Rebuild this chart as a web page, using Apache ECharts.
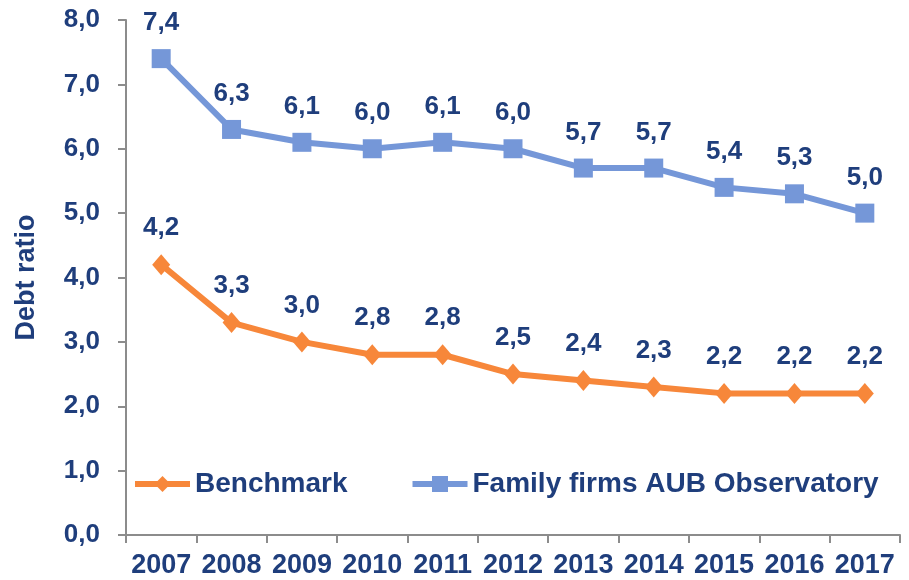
<!DOCTYPE html>
<html>
<head>
<meta charset="utf-8">
<script src="https://cdn.jsdelivr.net/npm/echarts@6/dist/echarts.min.js"></script>
<style>
  html, body { margin: 0; padding: 0; background: #fff; }
  #chart { width: 909px; height: 580px; }
</style>
</head>
<body>
<div id="chart"></div>
<script>
var years = ['2007', '2008', '2009', '2010', '2011', '2012', '2013', '2014', '2015', '2016', '2017'];
var benchmark = [4.2, 3.3, 3.0, 2.8, 2.8, 2.5, 2.4, 2.3, 2.2, 2.2, 2.2];
var familyFirms = [7.4, 6.3, 6.1, 6.0, 6.1, 6.0, 5.7, 5.7, 5.4, 5.3, 5.0];

var textColor = '#1F3E7C';
var axisColor = '#8C8C8C';
var orange = '#F7873A';
var blue = '#7597D8';
var font = 'Liberation Sans, Arial, sans-serif';

function comma(v) {
  return Number(v).toFixed(1).replace('.', ',');
}

var chart = echarts.init(document.getElementById('chart'));

var labelStyle = {
  show: true,
  position: 'top',
  distance: 13,
  color: textColor,
  fontFamily: font,
  fontWeight: 'bold',
  fontSize: 26,
  formatter: function (p) { return comma(p.value); }
};

var option = {
  animation: false,
  grid: { left: 126, right: 9, top: 20, bottom: 45 },
  legend: {
    left: 127,
    top: 465,
    itemWidth: 55,
    itemHeight: 20,
    itemGap: 62,
    textStyle: { color: textColor, fontFamily: font, fontWeight: 'bold', fontSize: 28 },
    data: [
      { name: 'Benchmark', lineStyle: { width: 6, color: orange } },
      { name: 'Family firms AUB Observatory', lineStyle: { width: 6, color: blue } }
    ]
  },
  xAxis: {
    type: 'category',
    data: years,
    boundaryGap: true,
    axisLine: { lineStyle: { color: axisColor, width: 2 } },
    axisTick: { show: true, interval: 0, length: 8, lineStyle: { color: axisColor, width: 2 } },
    axisLabel: { interval: 0, margin: 17, color: textColor, fontFamily: font, fontWeight: 'bold', fontSize: 27 }
  },
  yAxis: {
    type: 'value',
    min: 0,
    max: 8,
    interval: 1,
    name: 'Debt ratio',
    nameLocation: 'middle',
    nameGap: 86,
    nameTextStyle: { color: textColor, fontFamily: font, fontWeight: 'bold', fontSize: 27 },
    splitLine: { show: false },
    axisLine: { show: true, lineStyle: { color: axisColor, width: 2 } },
    axisTick: { show: true, length: 8, lineStyle: { color: axisColor, width: 2 } },
    axisLabel: {
      margin: 26,
      color: textColor,
      fontFamily: font,
      fontWeight: 'bold',
      fontSize: 26,
      formatter: comma
    }
  },
  series: [
    {
      name: 'Benchmark',
      type: 'line',
      data: benchmark,
      symbol: 'diamond',
      symbolSize: [18, 21],
      color: orange,
      lineStyle: { width: 6, color: orange },
      itemStyle: { color: orange },
      label: labelStyle
    },
    {
      name: 'Family firms AUB Observatory',
      type: 'line',
      data: familyFirms,
      symbol: 'rect',
      symbolSize: 19,
      color: blue,
      lineStyle: { width: 6, color: blue },
      itemStyle: { color: blue },
      label: labelStyle
    }
  ]
};

chart.setOption(option);
</script>
</body>
</html>
